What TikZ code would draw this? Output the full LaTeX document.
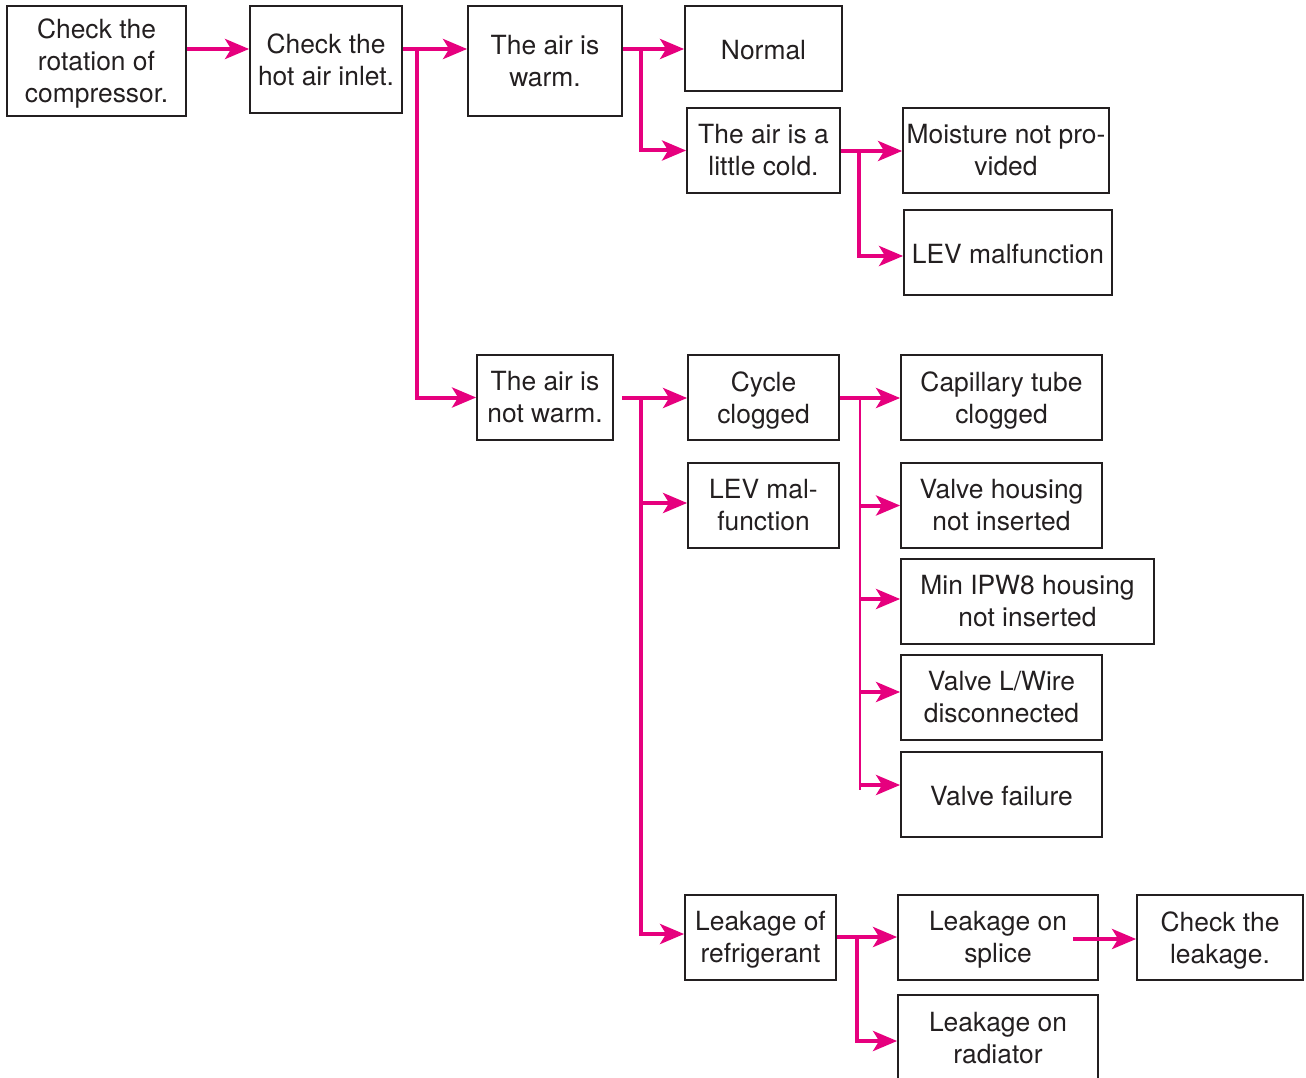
\documentclass[tikz,border=0pt]{standalone}
\usepackage{fontspec}
\setmainfont{TeX Gyre Heros}
\usetikzlibrary{arrows.meta,calc}
\definecolor{mag}{RGB}{230,0,126}
\definecolor{ink}{RGB}{35,31,32}
\tikzset{
  box/.style={draw=ink, line width=1.8pt, rectangle, inner sep=0pt},
  lbl/.style={inner sep=0pt, align=center, text=ink, font=\fontsize{26.4}{32}\selectfont,
    execute at begin node={\strut}, execute at end node={\strut}},
  conn/.style={draw=mag, line width=4pt, -{Stealth[length=24pt,width=20pt,inset=6pt]}},
  thintrunk/.style={draw=mag, line width=2.4pt},
}
% place a box by its corners: x1,y1,x2,y2, then its text
\newcommand{\bx}[6]{%
  \node[box, minimum width={#4-#2}, minimum height={#5-#3}] (#1) at ({(#2+#4)/2},{(#3+#5)/2}) {};
  \node[lbl] (#1t) at ([yshift=-4.5pt]#1.center) {#6};}
\begin{document}
\begin{tikzpicture}[x=1pt,y=-1pt]
\useasboundingbox (0,0) rectangle (1306,1078);
\bx{b1}{7}{6}{186}{116}{Check the\\rotation of\\compressor.}
\bx{b2}{250}{6}{402}{113}{Check the\\hot air inlet.}
\bx{b3}{468}{6}{622}{116}{The air is\\warm.}
\bx{b4}{685}{6}{842}{91}{Normal}
\bx{b5}{687}{108}{840}{193}{The air is a\\little cold.}
\bx{b6}{903}{108}{1109}{193}{Moisture not pro-\\vided}
\bx{b7}{904}{210}{1112}{295}{LEV malfunction}
\bx{b8}{477}{355}{613}{440}{The air is\\not warm.}
\bx{b9}{688}{355}{839}{440}{Cycle\\clogged}
\bx{b10}{688}{463}{839}{548}{LEV mal-\\function}
\bx{b11}{901}{355}{1102}{440}{Capillary tube\\clogged}
\bx{b12}{901}{463}{1102}{548}{Valve housing\\not inserted}
\bx{b13}{901}{559}{1154}{644}{Min IPW8 housing\\not inserted}
\bx{b14}{901}{655}{1102}{740}{Valve L/Wire\\disconnected}
\bx{b15}{901}{752}{1102}{837}{Valve failure}
\bx{b16}{685}{895}{836}{980}{Leakage of\\refrigerant}
\bx{b17}{898}{895}{1098}{980}{Leakage on\\splice}
\bx{b18}{1137}{895}{1303}{980}{Check the\\leakage.}
\bx{b19}{898}{995}{1098}{1082}{Leakage on\\radiator}

% junctions and free ends
\coordinate (r1) at (0,49);
\coordinate (j2) at (417,49);
\coordinate (j3) at (641,49);
\coordinate (j5) at (859,151);
\coordinate (s8) at (622,398);
\coordinate (j8) at (641,398);
\coordinate (j9) at (860,398);
\coordinate (e9) at (860,790);
\coordinate (j16) at (857,937);
\coordinate (s17) at (1073,939);

% connectors
\draw[conn] (b1.east |- r1) -- (b2.west |- r1);
\draw[conn] (b2.east |- j2) -- (b3.west |- j2);
\draw[conn] (j2) |- (b8.west);

\draw[conn] (b3.east |- j3) -- (b4.west |- j3);
\draw[conn] (j3) |- (b5.west);

\draw[conn] (b5.east |- j5) -- (b6.west |- j5);
\draw[conn] (j5) |- ([yshift=-3.5pt]b7.west);

\draw[conn] (s8) -- (b9.west |- s8);
\draw[conn] (j8) |- ([yshift=3.5pt]b16.west);
\draw[conn] ($(j8 |- b10.west)+(0,-2.5)$) -- ([yshift=2.5pt]b10.west);

\draw[conn] (b9.east |- j9) -- (b11.west |- j9);
\draw[thintrunk] (j9) -- (e9);
\draw[conn] (j9 |- b12.west) -- (b12.west);
\draw[conn] ($(j9 |- b13.west)+(0,-2.5)$) -- ([yshift=2.5pt]b13.west);
\draw[conn] ($(j9 |- b14.west)+(0,-5.5)$) -- ([yshift=5.5pt]b14.west);
\draw[conn] ($(j9 |- b15.west)+(0,-9.5)$) -- ([yshift=9.5pt]b15.west);

\draw[conn] (b16.east |- j16) -- (b17.west |- j16);
\draw[conn] (j16) |- ([yshift=-2.5pt]b19.west);
\draw[conn] (s17) -- (b18.west |- s17);
\end{tikzpicture}
\end{document}
